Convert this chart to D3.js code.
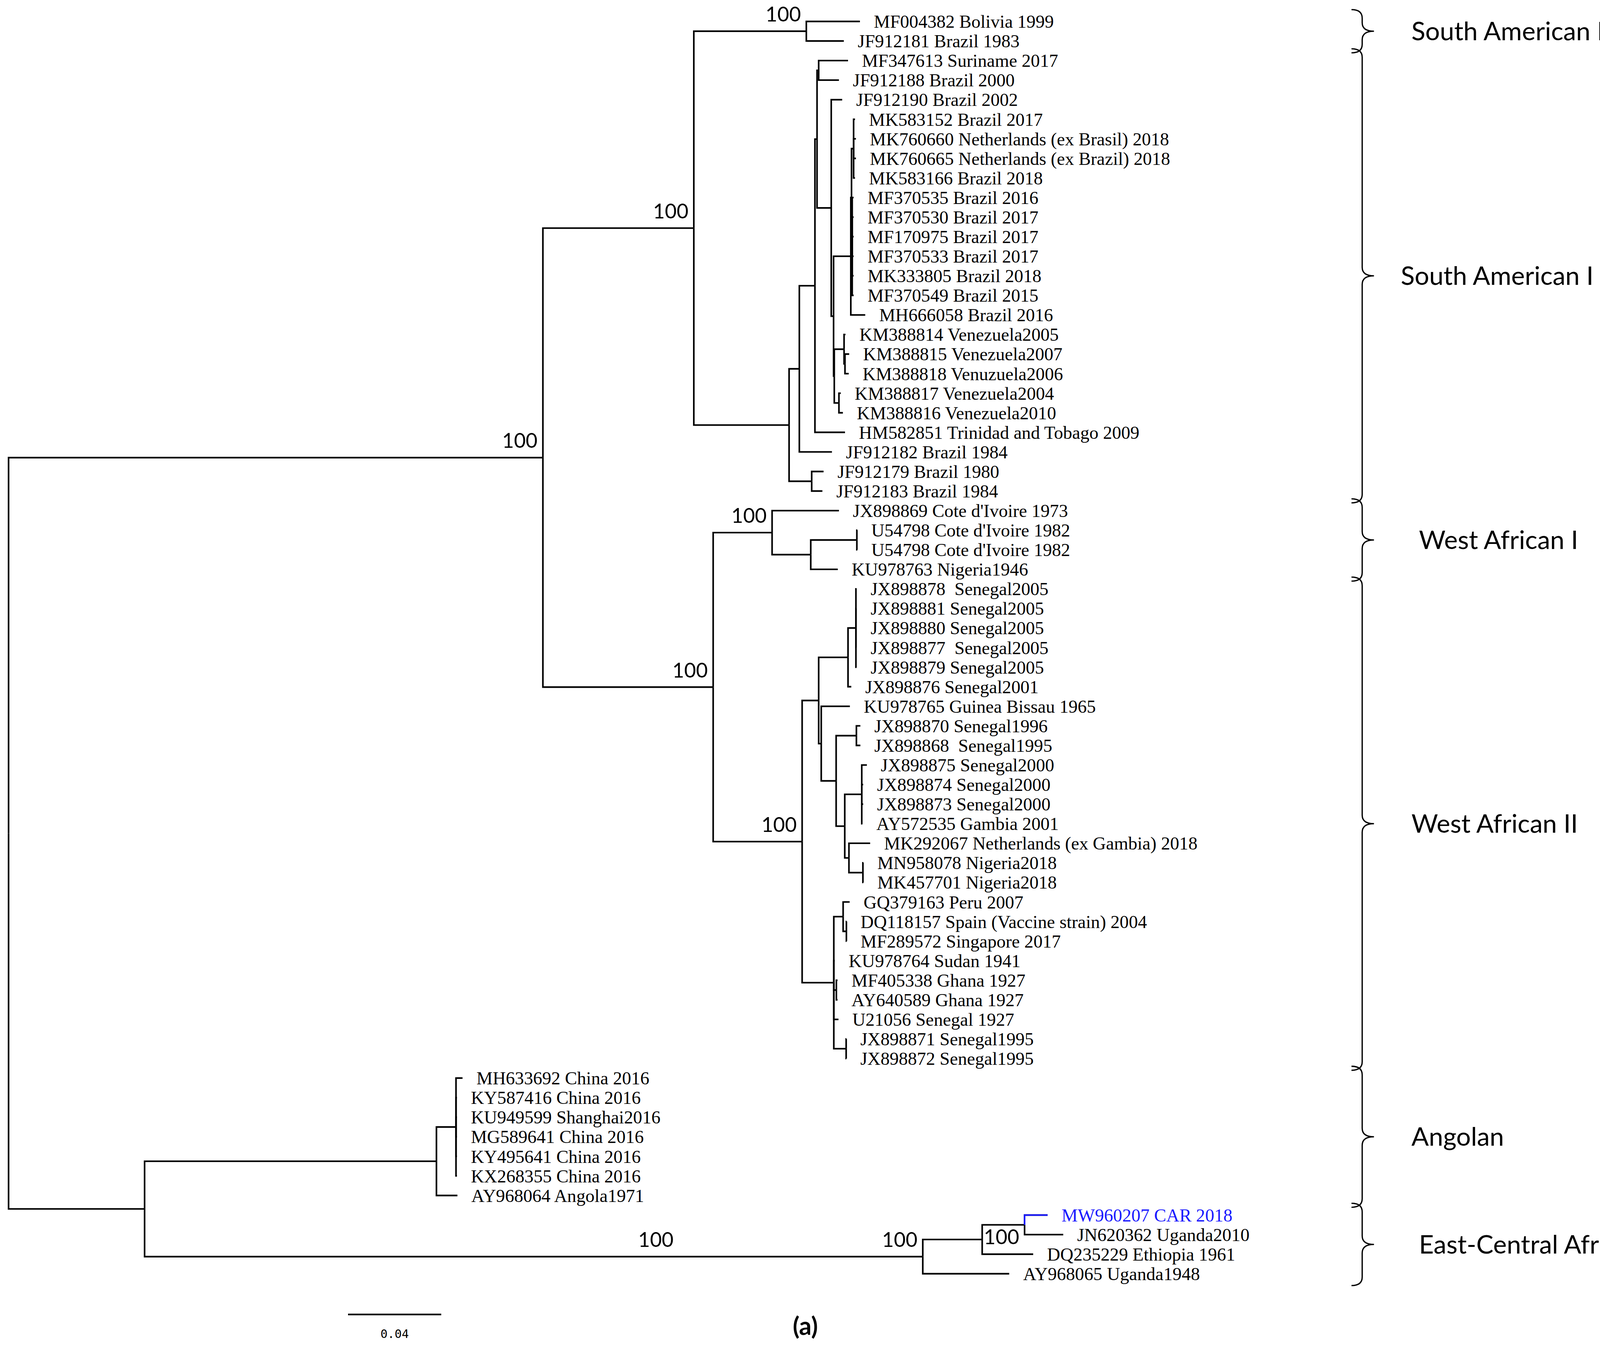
<!DOCTYPE html>
<html>
<head>
<meta charset="utf-8">
<script src="https://cdn.jsdelivr.net/npm/d3@7"></script>
<style>
  body { margin: 0; background: #fff; }
</style>
</head>
<body>
<svg id="chart" width="4285" height="3442"></svg>
<script>
// leaf labels, in tree order (index used in the newick pieces below)
var leafLabels = [
  "MF004382 Bolivia 1999", "JF912181 Brazil 1983", "MF347613 Suriname 2017", "JF912188 Brazil 2000",
  "JF912190 Brazil 2002", "MK583152 Brazil 2017", "MK760660 Netherlands (ex Brasil) 2018",
  "MK760665 Netherlands (ex Brazil) 2018", "MK583166 Brazil 2018", "MF370535 Brazil 2016",
  "MF370530 Brazil 2017", "MF170975 Brazil 2017", "MF370533 Brazil 2017", "MK333805 Brazil 2018",
  "MF370549 Brazil 2015", "MH666058 Brazil 2016", "KM388814 Venezuela2005", "KM388815 Venezuela2007",
  "KM388818 Venuzuela2006", "KM388817 Venezuela2004", "KM388816 Venezuela2010",
  "HM582851 Trinidad and Tobago 2009", "JF912182 Brazil 1984", "JF912179 Brazil 1980", "JF912183 Brazil 1984",
  "JX898869 Cote d'Ivoire 1973", "U54798 Cote d'Ivoire 1982", "U54798 Cote d'Ivoire 1982", "KU978763 Nigeria1946",
  "JX898878  Senegal2005", "JX898881 Senegal2005", "JX898880 Senegal2005", "JX898877  Senegal2005",
  "JX898879 Senegal2005", "JX898876 Senegal2001", "KU978765 Guinea Bissau 1965", "JX898870 Senegal1996",
  "JX898868  Senegal1995", "JX898875 Senegal2000", "JX898874 Senegal2000", "JX898873 Senegal2000",
  "AY572535 Gambia 2001", "MK292067 Netherlands (ex Gambia) 2018", "MN958078 Nigeria2018", "MK457701 Nigeria2018",
  "GQ379163 Peru 2007", "DQ118157 Spain (Vaccine strain) 2004", "MF289572 Singapore 2017", "KU978764 Sudan 1941",
  "MF405338 Ghana 1927", "AY640589 Ghana 1927", "U21056 Senegal 1927", "JX898871 Senegal1995", "JX898872 Senegal1995",
  "MH633692 China 2016", "KY587416 China 2016", "KU949599 Shanghai2016", "MG589641 China 2016",
  "KY495641 China 2016", "KX268355 China 2016", "AY968064 Angola1971",
  "MW960207 CAR 2018", "JN620362 Uganda2010", "DQ235229 Ethiopia 1961", "AY968065 Uganda1948"
];
var highlightLeaf = 61;

// tree pieces: branch lengths (substitutions/site), bootstrap values ("100b" = drawn under the branch)
var sa2 = "(0:0.0230,1:0.0161)100:0.0483";
var ntop = "(2:0.0126,3:0.0087):0.0007";
var nbc = "((5:0.0006,6:0.0010,7:0.0010,8:0.0006):0.0009,(9:0.0006,10:0.0006,11:0.0006,12:0.0006,13:0.0006,14:0.0006):0.0003):0.0003";
var nbra = "(" + nbc + ",15:0.0062):0.0074";
var ven = "((16:0.0006,(17:0.0018,18:0.0016):0.0004):0.0042,(19:0.0008,20:0.0017):0.0020):0.0003";
var n5 = "(" + nbra + "," + ven + "):0.0010";
var n4 = "(4:0.0047," + n5 + "):0.0061";
var n3 = "(" + ntop + "," + n4 + "):0.0009";
var n2 = "(" + n3 + ",21:0.0129):0.0067";
var n1 = "(" + n2 + ",22:0.0140):0.0044";
var sa1 = "(" + n1 + ",(23:0.0051,24:0.0046):0.0097):0.0409";
var sa = "(" + sa2 + "," + sa1 + ")100:0.0648";

var wa1 = "(25:0.0287,((26:0.0002,27:0.0002):0.0198,28:0.0116):0.0166)100:0.0253";
var sen05 = "((29:0.0003,30:0.0003,31:0.0003,32:0.0003,33:0.0003):0.0034,34:0.0014):0.0126";
var ns3 = "((38:0.0022,39:0.0006,40:0.0006,41:0.0003):0.0073,(42:0.0091,(43:0.0002,44:0.0002):0.0060):0.0018):0.0037";
var ns2 = "((36:0.0017,37:0.0017):0.0087," + ns3 + "):0.0064";
var nrest = "(35:0.0123," + ns2 + "):0.0011";
var nsen = "(" + sen05 + "," + nrest + "):0.0071";
var nglob = "((45:0.0028,(46:0.0001,47:0.0001):0.0014):0.0040,48:0.0004,(49:0.0005,50:0.0005):0.0011,51:0.0020,(52:0.0001,53:0.0001):0.0053):0.0136";
var wa2 = "(" + nsen + "," + nglob + ")100:0.0382";
var wa = "(" + wa1 + "," + wa2 + ")100:0.0731";
var cladeA = "(" + sa + "," + wa + ")100:0.2294";

var ang = "((54:0.0028,55:0.0004,56:0.0004,57:0.0004,58:0.0004,59:0.0004):0.0084,60:0.0090):0.1253";
var ecsa = "((((61:0.0099,62:0.0166)100b:0.0182,63:0.0219):0.0255,64:0.0371)100:0.1047";
var cladeB = "(" + ang + "," + ecsa + ")100:0.2294";
var newick = "(" + cladeA + "," + cladeB + "):0.0584;";

// clade brackets: first and last leaf index
var cladeNames = ["South American II", "South American I", "West African I", "West African II", "Angolan", "East-Central African*"];
var cladeFirst = [0, 2, 25, 29, 54, 61];
var cladeLast  = [1, 24, 28, 53, 60, 64];

var scaleBarValue = 0.04;
var panelLabel = "(a)";

// ---- newick parser
function parseNewick(s) {
  var i = 0;
  function node() {
    var n = {children: null, name: "", length: 0};
    if (s[i] === "(") {
      i++;
      n.children = [];
      while (i < s.length) {
        n.children.push(node());
        if (s[i] === ",") { i++; continue; }
        i++; // ")"
        break;
      }
    }
    var st = i;
    while (i < s.length && ":,();".indexOf(s[i]) < 0) i++;
    n.name = s.slice(st, i);
    if (s[i] === ":") {
      i++;
      st = i;
      while (i < s.length && ",();".indexOf(s[i]) < 0) i++;
      n.length = +s.slice(st, i);
    }
    return n;
  }
  return node();
}

var S = 4285 / 1563;   // reference pixel factor
var svg = d3.select("#chart");

var root = d3.hierarchy(parseNewick(newick), function (d) { return d.children; });
root.eachBefore(function (d) { d.dist = (d.parent ? d.parent.dist : 0) + d.data.length; });

var x = d3.scaleLinear().domain([0, 1]).range([8 * S, (8 + 2175) * S]);
var y = d3.scaleLinear().domain([0, leafLabels.length - 1]).range([20 * S, 1189 * S]);

root.eachAfter(function (d) {
  if (!d.children) { d.idx = +d.data.name; d.py = y(d.idx); }
  else d.py = (d.children[0].py + d.children[d.children.length - 1].py) / 2;
  d.px = x(d.dist);
});

var g = svg.append("g");
var lw = 1.5 * S;
var blue = "#1a1aff";

// root stem
g.append("path").attr("d", "M" + x(0) + "," + root.py + "H" + root.px)
  .attr("stroke", "#000").attr("stroke-width", lw).attr("fill", "none");

root.descendants().slice(1).forEach(function (d) {
  var p = d.parent;
  g.append("path")
    .attr("d", "M" + p.px + "," + p.py + "V" + d.py + "H" + d.px)
    .attr("stroke", "#000").attr("stroke-width", lw).attr("fill", "none");
});
// highlighted branch on top
root.leaves().forEach(function (d) {
  if (d.idx !== highlightLeaf) return;
  g.append("path").attr("d", "M" + d.parent.px + "," + d.parent.py + "V" + d.py + "H" + d.px)
    .attr("stroke", blue).attr("stroke-width", lw).attr("fill", "none");
});

// leaf labels
g.selectAll("text.leaf").data(root.leaves()).enter().append("text")
  .attr("class", "leaf")
  .attr("x", function (d) { return d.px + 13 * S; })
  .attr("y", function (d) { return d.py; })
  .attr("dy", "0.35em")
  .attr("font-family", "Liberation Serif, serif")
  .attr("font-size", 17 * S)
  .attr("fill", function (d) { return d.idx === highlightLeaf ? blue : "#000"; })
  .style("white-space", "pre")
  .text(function (d) { return leafLabels[d.idx]; });

// bootstrap values
root.descendants().filter(function (d) { return d.children && d.data.name; }).forEach(function (d) {
  var below = d.data.name.slice(-1) === "b";
  g.append("text")
    .attr("x", d.px - 5 * S)
    .attr("y", below ? d.py + 18 * S : d.py - 9 * S)
    .attr("text-anchor", "end")
    .attr("font-family", "Lato, sans-serif")
    .attr("font-size", 19 * S)
    .text(d.data.name.replace("b", ""));
});

// clade brackets
var bx = 1262 * S, bv = 1272 * S, bt = 1283 * S, r = 8 * S;
cladeNames.forEach(function (name, i) {
  var top = y(cladeFirst[i]) - 11 * S, bot = y(cladeLast[i]) + 11 * S, mid = (top + bot) / 2;
  var rr = Math.min(r, (bot - top) / 4);
  var path = "M" + bx + "," + top + "Q" + bv + "," + top + " " + bv + "," + (top + rr) +
    "V" + (mid - rr) + "Q" + bv + "," + mid + " " + bt + "," + mid +
    "Q" + bv + "," + mid + " " + bv + "," + (mid + rr) +
    "V" + (bot - rr) + "Q" + bv + "," + bot + " " + bx + "," + bot;
  g.append("path").attr("d", path).attr("stroke", "#000").attr("stroke-width", 1.2 * S).attr("fill", "none");
  g.append("text")
    .attr("x", (i === 1 ? 1308 : (i === 2 || i === 5) ? 1325 : 1318) * S)
    .attr("y", mid).attr("dy", "0.35em")
    .attr("font-family", "Lato, sans-serif")
    .attr("font-size", 24 * S)
    .text(name);
});

// scale bar
var sb0 = 325 * S, sy = 1227 * S;
var sbLen = x(scaleBarValue) - x(0);
g.append("line").attr("x1", sb0).attr("x2", sb0 + sbLen).attr("y1", sy).attr("y2", sy)
  .attr("stroke", "#000").attr("stroke-width", 1.5 * S);
g.append("text").attr("x", sb0 + sbLen / 2).attr("y", sy + 22 * S)
  .attr("text-anchor", "middle").attr("font-family", "DejaVu Sans Mono, monospace")
  .attr("font-size", 11 * S).text(scaleBarValue.toFixed(2));

g.append("text").attr("x", 752 * S).attr("y", 1246 * S)
  .attr("text-anchor", "middle").attr("font-family", "Lato, sans-serif").attr("font-weight", "bold")
  .attr("font-size", 23 * S).text(panelLabel);
</script>
</body>
</html>
